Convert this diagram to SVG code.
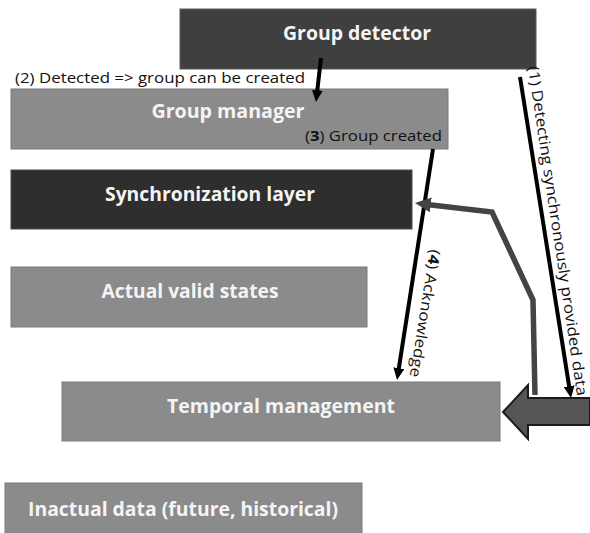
<svg xmlns="http://www.w3.org/2000/svg" width="590" height="533" viewBox="0 0 590 533">
  <defs>
    <style>
      .box-dark { fill: #3f3f3f; stroke: #5a5a5a; stroke-width: 1; }
      .box-darker { fill: #2e2e2e; stroke: #4a4a4a; stroke-width: 1; }
      .box-light { fill: #8b8b8b; stroke: #7a7a7a; stroke-width: 1; }
      .node-label { font-family: "Open Sans", "Liberation Sans", sans-serif; font-weight: 700; font-size: 20px; fill: #f4f4f4; text-anchor: middle; }
      .edge-label { font-family: "Open Sans", "Liberation Sans", sans-serif; font-size: 15px; fill: #111; }
      .conn { fill: none; stroke: #000; stroke-width: 4; }
      .conn-gray { fill: none; stroke: #444; stroke-width: 5.5; stroke-linejoin: miter; }
    </style>
    <marker id="ah" markerUnits="userSpaceOnUse" markerWidth="12" markerHeight="11" refX="3" refY="5.5" orient="auto">
      <path d="M0,0 L12,5.5 L0,11 z" fill="#000"/>
    </marker>
    <marker id="ahg" markerUnits="userSpaceOnUse" markerWidth="16" markerHeight="15" refX="4" refY="7.5" orient="auto">
      <path d="M0,0 L16,7.5 L0,15 z" fill="#444"/>
    </marker>
  </defs>
  <rect width="590" height="533" fill="#fff"/>

  <g id="group-detector">
    <rect class="box-dark" x="180" y="9" width="356" height="60"/>
    <text class="node-label" x="357" y="40" textLength="148" lengthAdjust="spacingAndGlyphs">Group detector</text>
  </g>
  <g id="group-manager">
    <rect class="box-light" x="11" y="89" width="437" height="60"/>
    <text class="node-label" x="228" y="118" textLength="153" lengthAdjust="spacingAndGlyphs">Group manager</text>
  </g>
  <g id="synchronization-layer">
    <rect class="box-darker" x="11" y="170" width="401" height="59"/>
    <text class="node-label" x="210" y="201" textLength="210" lengthAdjust="spacingAndGlyphs">Synchronization layer</text>
  </g>
  <g id="actual-valid-states">
    <rect class="box-light" x="11" y="267" width="356" height="60"/>
    <text class="node-label" x="190" y="298" textLength="177" lengthAdjust="spacingAndGlyphs">Actual valid states</text>
  </g>
  <g id="temporal-management">
    <rect class="box-light" x="62" y="382" width="438" height="59"/>
    <text class="node-label" x="281" y="413" textLength="228" lengthAdjust="spacingAndGlyphs">Temporal management</text>
  </g>
  <g id="inactual-data">
    <rect class="box-light" x="5" y="483" width="357" height="56"/>
    <text class="node-label" x="183" y="516" textLength="310" lengthAdjust="spacingAndGlyphs">Inactual data (future, historical)</text>
  </g>

  <g id="connectors">
    <line class="conn" x1="321" y1="58" x2="317" y2="93.1" marker-end="url(#ah)"/>
    <line class="conn" x1="433" y1="149" x2="398.4" y2="371.1" marker-end="url(#ah)" stroke-width="3.5"/>
    <line class="conn" x1="520" y1="77" x2="569.6" y2="389.1" marker-end="url(#ah)"/>
    <polyline class="conn-gray" points="535,395 533,300 492,212 426.9,204.4" marker-end="url(#ahg)"/>
    <path d="M590,398 L528,398 L528,385 L503,412 L528,439 L528,425 L590,425 Z" fill="#555" stroke="#1a1a1a" stroke-width="2"/>

    <text class="edge-label" x="15" y="83" textLength="290" lengthAdjust="spacingAndGlyphs">(2) Detected =&gt; group can be created</text>
    <text class="edge-label" x="442" y="141" text-anchor="end" textLength="137" lengthAdjust="spacingAndGlyphs">(<tspan font-weight="700">3</tspan>) Group created</text>
    <text class="edge-label" transform="translate(528,67) rotate(81.5)" x="0" y="0" font-size="14" textLength="333" lengthAdjust="spacingAndGlyphs">(1) Detecting synchronously provided data</text>
    <text class="edge-label" transform="translate(430,249) rotate(99)" x="0" y="0" textLength="129" lengthAdjust="spacingAndGlyphs">(<tspan font-weight="700">4</tspan>) Acknowledge</text>
  </g>
</svg>
